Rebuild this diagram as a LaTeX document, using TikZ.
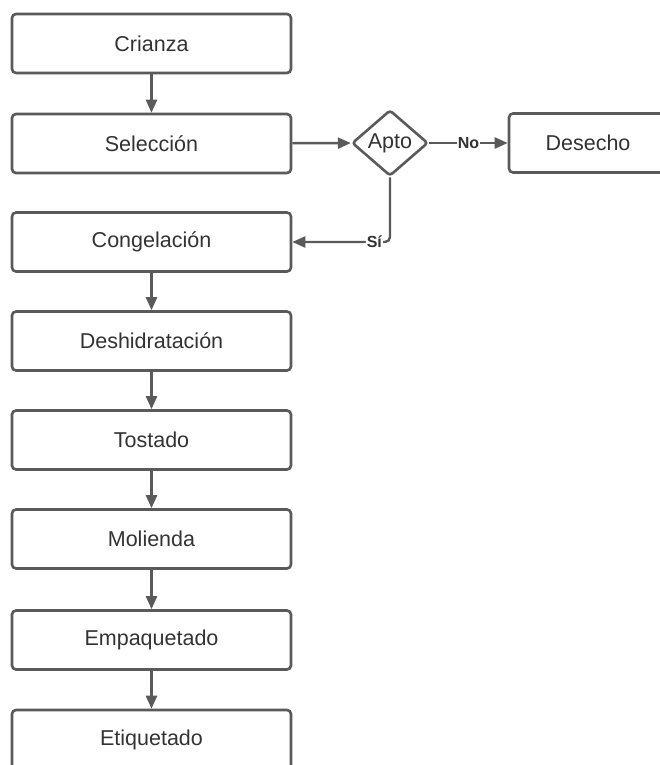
\documentclass[tikz,border=0pt]{standalone}
\usepackage{fontspec}
\setmainfont{Liberation Sans}
\usetikzlibrary{shapes.geometric,arrows.meta}
\definecolor{linegray}{HTML}{5A5A5A}
\definecolor{textgray}{HTML}{333333}
\begin{document}
\begin{tikzpicture}[x=1pt,y=-1pt,
  procbox/.style={draw=linegray, line width=2.6pt, rounded corners=4pt,
    minimum width=279pt, minimum height=59pt, inner sep=0pt,
    font=\fontsize{21.5}{24}\selectfont, text=textgray},
  decbox/.style={draw=linegray, line width=2.6pt, shape=diamond, rounded corners=3pt,
    minimum width=76pt, minimum height=66pt, inner sep=0pt,
    font=\fontsize{21.5}{24}\selectfont, text=textgray},
  flow/.style={draw=linegray, line width=2.4pt,
    -{Triangle[length=13pt,width=11pt]}},
  branch/.style={fill=white, inner sep=1pt, text=textgray,
    font=\bfseries\fontsize{16}{18}\selectfont}]
  \useasboundingbox (0,0) rectangle (660,765);
  \clip (0,0) rectangle (660,765);
  \fill[white] (0,0) rectangle (660,765);

  % main column of process steps
  \node[procbox] (crianza)   at (151.5,43.5)  {Crianza};
  \node[procbox] (seleccion) at (151.5,143.5) {Selección};
  \node[procbox] (congel)    at (151.5,242)   {Congelación};
  \node[procbox] (deshid)    at (151.5,341)   {Deshidratación};
  \node[procbox] (tostado)   at (151.5,440)   {Tostado};
  \node[procbox] (molienda)  at (151.5,539)   {Molienda};
  \node[procbox] (empaq)     at (151.5,640)   {Empaquetado};
  \node[procbox] (etiq)      at (151.5,739.5) {Etiquetado};

  % decision and reject branch
  \node[decbox] (apto) at (390,143) {Apto};
  \node[procbox, minimum width=158pt] (desecho) at (588,143) {Desecho};

  % connectors
  \draw[flow] (crianza) -- (seleccion);
  \draw[flow] (seleccion) -- (apto);
  \draw[flow] (apto) -- node[branch] {No} (desecho);
  \draw[flow, rounded corners=5pt] (apto.south) |- node[branch, pos=0.58] {Sí} (congel.east);
  \draw[flow] (congel) -- (deshid);
  \draw[flow] (deshid) -- (tostado);
  \draw[flow] (tostado) -- (molienda);
  \draw[flow] (molienda) -- (empaq);
  \draw[flow] (empaq) -- (etiq);
\end{tikzpicture}
\end{document}
